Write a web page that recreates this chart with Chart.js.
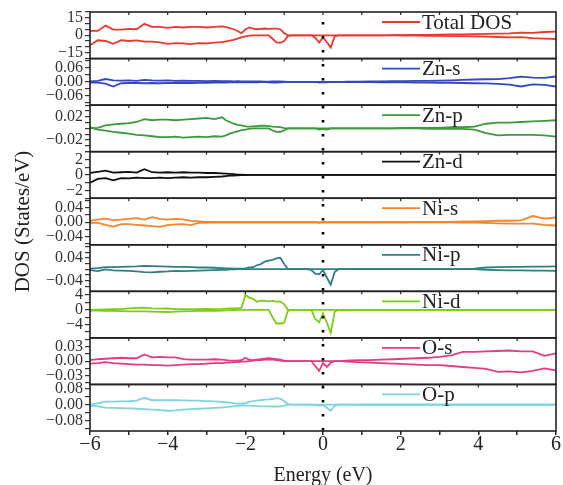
<!DOCTYPE html>
<html>
<head>
<meta charset="utf-8">
<script src="https://cdn.jsdelivr.net/npm/chart.js@4.4.0/dist/chart.umd.min.js"></script>
<style>
  html, body { margin: 0; padding: 0; background: #fff; }
</style>
</head>
<body>
<canvas id="dosChart" width="563" height="485"></canvas>
<script>
(function() {
    "use strict";

// energy grid (eV), finer around the Fermi level
const energy = [
    -6.0, -5.8, -5.6, -5.4, -5.2, -5.0, -4.8, -4.6, -4.4, -4.2, -4.0, -3.8, -3.6, -3.4, -3.2, -3.0, -2.8, -2.6,
    -2.5, -2.4, -2.3, -2.2, -2.1, -2.0, -1.9, -1.8, -1.7, -1.6, -1.5, -1.4, -1.3, -1.2, -1.1, -1.0, -0.9, -0.8,
    -0.7, -0.6, -0.5, -0.4, -0.3, -0.2, -0.1, 0.0, 0.1, 0.2, 0.3, 0.4, 0.5,
    0.6, 0.9, 1.2, 1.5, 1.8, 2.1, 2.4, 2.7, 3.0, 3.3, 3.6, 3.9, 4.2, 4.5, 4.8, 5.1, 5.4, 5.7, 6.0
];

const totalUp = [
    3.7, 3.7, 8.3, 4.9, 4.9, 5.5, 5.2, 9.8, 7.3, 7.3, 6.4, 7.3, 6.7, 7.3, 7.3, 6.7, 7.3, 7.6,
    7.0, 6.1, 5.2, 3.7, 1.8, 4.9, 6.7, 5.8, 5.2, 5.5, 5.8, 5.5, 5.8, 5.8, 5.2, 1.8, 0, 0,
    0, 0, 0, 0, 0, 0, 0, 0, 0, 0, 0, 0, 0,
    0, 0, 0, 0, 0.1, 0.2, 0.3, 0.4, 0.5, 0.7, 0.8, 1.0, 1.2, 1.4, 1.6, 2.2, 2.0, 2.8, 3.2
];
const totalDown = [
    -8.6, -4.3, -4.9, -7.3, -4.3, -4.9, -4.3, -5.5, -5.5, -6.1, -7.3, -6.7, -7.0, -7.6, -6.7, -7.0, -6.4, -5.8,
    -5.2, -4.6, -4.0, -2.8, -1.8, -0.9, -0.3, 0, 0, 0, 0, 0, -3.0, -6.2, -6.4, -5.0, -0.5, 0,
    0, 0, 0, 0, 0, -2.0, -6.2, -1.8, -6.0, -10.5, -1.0, 0, 0,
    0, 0, 0, 0, -0.1, -0.2, -0.3, -0.4, -0.5, -0.7, -0.8, -1.0, -1.2, -1.5, -1.8, -1.6, -2.5, -2.8, -3.2
];

const znSUp = [
    0.002, 0.004, 0.012, 0.006, 0.005, 0.006, 0.004, 0.008, 0.006, 0.005, 0.006, 0.004, 0.005, 0.004, 0.004, 0.003, 0.004, 0.003,
    0.003, 0.003, 0.002, 0.003, 0.002, 0.002, 0.002, 0.002, 0.002, 0.002, 0.001, 0.001, 0.002, 0.002, 0.002, 0.001, 0, 0,
    0, 0, 0, 0, 0, 0, 0, 0, 0, 0, 0, 0, 0,
    0.001, 0.001, 0.002, 0.002, 0.003, 0.003, 0.004, 0.004, 0.005, 0.006, 0.008, 0.010, 0.011, 0.012, 0.016, 0.022, 0.018, 0.017, 0.023
];
const znSDown = [
    -0.003, -0.003, -0.008, -0.020, -0.006, -0.005, -0.005, -0.006, -0.005, -0.006, -0.005, -0.005, -0.004, -0.005, -0.004, -0.004, -0.003, -0.003,
    -0.003, -0.002, -0.002, -0.002, -0.002, -0.002, -0.002, -0.002, -0.002, -0.001, -0.001, -0.002, -0.003, -0.003, -0.002, -0.001, 0, 0,
    0, 0, 0, 0, 0, 0, -0.003, -0.001, -0.002, 0, 0, 0, 0,
    -0.001, -0.001, -0.001, -0.002, -0.002, -0.002, -0.003, -0.003, -0.004, -0.004, -0.005, -0.006, -0.007, -0.009, -0.012, -0.020, -0.011, -0.013, -0.020
];

const znPUp = [
    0, 0.001, 0.005, 0.007, 0.008, 0.009, 0.011, 0.016, 0.014, 0.015, 0.015, 0.014, 0.015, 0.016, 0.017, 0.018, 0.016, 0.019,
    0.014, 0.011, 0.008, 0.006, 0.005, 0.0035, 0.003, 0.0035, 0.004, 0.0045, 0.0045, 0.004, 0.003, 0.0025, 0.002, 0.0005, 0, 0,
    0, 0, 0, 0, 0, 0, 0, 0, 0, 0, 0, 0, 0,
    0, 0, 0, 0, 0, 0.001, 0.001, 0.001, 0.001, 0.002, 0.002, 0.003, 0.008, 0.010, 0.010, 0.011, 0.012, 0.013, 0.014
];
const znPDown = [
    0.002, -0.002, -0.004, -0.006, -0.0075, -0.009, -0.011, -0.012, -0.0135, -0.015, -0.015, -0.014, -0.016, -0.015, -0.014, -0.015, -0.0135, -0.014,
    -0.012, -0.009, -0.007, -0.005, -0.003, -0.002, -0.001, 0, 0, 0, 0, 0, -0.0035, -0.006, -0.006, -0.0035, 0, 0,
    0, 0, 0, 0, 0, 0, -0.002, -0.001, -0.002, 0, 0, 0, 0,
    0, 0, 0, 0, 0, 0, 0, -0.001, -0.001, -0.001, -0.001, -0.002, -0.008, -0.012, -0.011, -0.011, -0.011, -0.012, -0.014
];

const znDUp = [
    0.27, 0.4, 0.55, 0.3, 0.35, 0.4, 0.3, 0.75, 0.35, 0.3, 0.35, 0.3, 0.35, 0.3, 0.3, 0.25, 0.25, 0.2,
    0.18, 0.15, 0.1, 0.05, 0.03, 0.02, 0.01, 0, 0, 0, 0, 0, 0, 0, 0, 0, 0, 0,
    0, 0, 0, 0, 0, 0, 0, 0, 0, 0, 0, 0, 0,
    0, 0, 0, 0, 0, 0, 0, 0, 0, 0, 0, 0, 0, 0, 0, 0, 0, 0, 0
];
const znDDown = [
    -1.0, -0.5, -0.4, -0.7, -0.4, -0.45, -0.35, -0.4, -0.4, -0.35, -0.4, -0.35, -0.3, -0.35, -0.3, -0.3, -0.25, -0.2,
    -0.15, -0.1, -0.07, -0.04, -0.02, -0.01, 0, 0, 0, 0, 0, 0, 0, 0, 0, 0, 0, 0,
    0, 0, 0, 0, 0, 0, 0, 0, 0, 0, 0, 0, 0,
    0, 0, 0, 0, 0, 0, 0, 0, 0, 0, 0, 0, 0, 0, 0, 0, 0, 0, 0
];

const niSUp = [
    0.004, 0.007, 0.010, 0.006, 0.007, 0.009, 0.011, 0.007, 0.014, 0.009, 0.007, 0.009, 0.008, 0.004, 0.002, 0.001, 0.001, 0,
    0, 0, 0, 0, 0, 0, 0, 0, 0, 0, 0, 0, 0, 0, 0, 0, 0, 0,
    0, 0, 0, 0, 0, 0, 0, 0, 0, 0, 0, 0, 0,
    0, 0, 0, 0, 0, 0, 0.001, 0.001, 0.001, 0.001, 0.002, 0.002, 0.003, 0.004, 0.004, 0.005, 0.017, 0.010, 0.013
];
const niSDown = [
    -0.002, -0.002, -0.007, -0.012, -0.005, -0.005, -0.007, -0.009, -0.011, -0.013, -0.008, -0.006, -0.005, -0.008, -0.002, -0.001, -0.001, 0,
    0, 0, 0, 0, 0, 0, 0, 0, 0, 0, 0, 0, 0, 0, 0, 0, 0, 0,
    0, 0, 0, 0, 0, 0, -0.002, 0, 0, 0, 0, 0, 0,
    0, 0, 0, 0, 0, 0, 0, 0, 0, 0, -0.001, -0.001, -0.002, -0.003, -0.004, -0.004, -0.004, -0.007, -0.009
];

const niPUp = [
    0.002, 0.004, 0.007, 0.007, 0.008, 0.009, 0.010, 0.012, 0.011, 0.010, 0.009, 0.008, 0.008, 0.007, 0.006, 0.006, 0.005, 0.004,
    0.003, 0.003, 0.002, 0.002, 0.002, 0.003, 0.006, 0.007, 0.014, 0.018, 0.027, 0.030, 0.033, 0.038, 0.040, 0.018, 0, 0,
    0, 0, 0, 0, 0, 0, 0, 0, 0, 0, 0, 0, 0,
    0, 0, 0, 0, 0, 0, 0, 0, 0, 0, 0, 0.002, 0.006, 0.007, 0.008, 0.008, 0.009, 0.009, 0.010
];
const niPDown = [
    -0.003, -0.007, -0.001, -0.004, -0.005, -0.006, -0.008, -0.010, -0.011, -0.009, -0.008, -0.006, -0.007, -0.006, -0.005, -0.004, -0.003, -0.002,
    -0.002, -0.001, -0.001, 0, 0, 0, 0, 0, 0, 0, 0, 0, 0, 0, 0, 0, 0, 0,
    0, 0, 0, 0, -0.003, -0.016, -0.018, -0.003, -0.030, -0.055, -0.010, 0, 0,
    0, 0, 0, 0, 0, 0, 0, 0, 0, 0, 0, 0, -0.002, -0.003, -0.004, -0.004, -0.005, -0.005, -0.006
];

const niDUp = [
    0, 0.05, 0.1, 0.15, 0.2, 0.4, 0.5, 0.6, 0.4, 0.3, 0.35, 0.2, 0.15, 0.2, 0.2, 0.25, 0.2, 0.25,
    0.3, 0.35, 0.4, 0.45, 0.5, 4.0, 3.3, 3.0, 2.2, 2.5, 2.4, 2.3, 2.4, 2.2, 2.3, 1.5, 0, 0,
    0, 0, 0, 0, 0, 0, 0, 0, 0, 0, 0, 0, 0,
    0, 0, 0, 0, 0, 0, 0, 0, 0, 0, 0, 0, 0, 0, 0, 0, 0, 0, 0
];
const niDDown = [
    -0.2, -0.2, -0.25, -0.3, -0.35, -0.4, -0.45, -0.4, -0.5, -0.55, -0.6, -0.5, -0.4, -0.35, -0.3, -0.3, -0.25, -0.2,
    -0.15, -0.1, -0.05, 0, 0, 0, 0, 0, 0, 0, 0, 0, -2.0, -3.7, -3.7, -3.5, -0.2, 0,
    0, 0, 0, 0, 0, -2.5, -3.4, -1.0, -3.5, -6.3, -0.5, 0, 0,
    0, 0, 0, 0, 0, 0, 0, 0, 0, 0, 0, 0, 0, 0, 0, 0, 0, 0, 0
];

const oSUp = [
    0.002, 0.004, 0.005, 0.006, 0.007, 0.006, 0.006, 0.014, 0.008, 0.009, 0.008, 0.008, 0.004, 0.003, 0.003, 0.003, 0.004, 0.003,
    0.002, 0.001, 0.001, 0.001, 0.002, 0.007, 0.003, 0.002, 0.003, 0.004, 0.005, 0.006, 0.005, 0.004, 0.003, 0.001, 0, 0,
    0, 0, 0, 0, 0, 0, 0, 0, 0, 0, 0, 0, 0,
    0.001, 0.002, 0.002, 0.003, 0.004, 0.005, 0.006, 0.007, 0.009, 0.012, 0.019, 0.019, 0.020, 0.021, 0.022, 0.020, 0.020, 0.011, 0.016
];
const oSDown = [
    -0.005, -0.004, -0.002, -0.004, -0.005, -0.006, -0.007, -0.007, -0.008, -0.008, -0.009, -0.008, -0.007, -0.006, -0.006, -0.005, -0.004, -0.004,
    -0.003, -0.003, -0.002, -0.002, -0.001, -0.001, 0, 0.001, 0.002, 0.002, 0.003, 0.003, 0.003, 0.002, 0.001, 0, 0, 0,
    0, 0, 0, 0, 0, -0.010, -0.020, -0.004, -0.012, -0.003, 0, 0, 0,
    -0.001, -0.002, -0.003, -0.004, -0.005, -0.006, -0.007, -0.008, -0.008, -0.010, -0.012, -0.014, -0.016, -0.022, -0.021, -0.023, -0.020, -0.015, -0.019
];

const oPUp = [
    0, 0.007, 0.015, 0.015, 0.016, 0.017, 0.020, 0.034, 0.022, 0.022, 0.022, 0.022, 0.021, 0.020, 0.020, 0.018, 0.016, 0.014,
    0.012, 0.010, 0.008, 0.005, 0.005, 0.008, 0.014, 0.018, 0.020, 0.022, 0.025, 0.026, 0.028, 0.032, 0.030, 0.018, 0.003, 0,
    0, 0, 0, 0, 0, 0, 0, 0, 0, 0, 0, 0, 0,
    0, 0.001, 0.001, 0.001, 0.001, 0.001, 0.001, 0.001, 0.001, 0.001, 0.001, 0.001, 0.001, 0.001, 0.001, 0.001, 0.001, 0.001, 0.001
];
const oPDown = [
    -0.005, -0.008, -0.015, -0.016, -0.017, -0.018, -0.020, -0.022, -0.024, -0.027, -0.030, -0.028, -0.024, -0.022, -0.020, -0.018, -0.016, -0.014,
    -0.012, -0.010, -0.008, -0.006, -0.004, -0.004, -0.005, -0.006, -0.007, -0.008, -0.008, -0.008, -0.009, -0.009, -0.008, -0.005, 0, 0,
    0, 0, 0, 0, 0, -0.002, -0.004, -0.002, -0.015, -0.030, -0.005, 0, 0,
    0, -0.001, -0.001, -0.001, -0.001, -0.001, -0.001, -0.001, -0.001, -0.001, -0.001, -0.001, -0.001, -0.001, -0.001, -0.001, -0.001, -0.001, -0.001
];

// panel names (top to bottom) and the labelled y ticks of each panel
const panelNames = ['Total DOS', 'Zn-s', 'Zn-p', 'Zn-d', 'Ni-s', 'Ni-p', 'Ni-d', 'O-s', 'O-p'];
const tickTotal = [15, 0, -15];
const tickZnS = [0.06, 0, -0.06];
const tickZnP = [0.02, -0.02];
const tickZnD = [2, 0, -2];
const tickNiS = [0.04, 0, -0.04];
const tickNiP = [0.04, -0.04];
const tickNiD = [4, 0, -4];
const tickOS = [0.03, 0, -0.03];
const tickOP = [0.08, 0, -0.08];

var serif = "'Liberation Serif', 'Times New Roman', serif";

var panels = [
    { up: totalUp, down: totalDown, ticks: tickTotal, color: '#e8392f', min: -20, max: 20, step: 5, dec: 0 },
    { up: znSUp, down: znSDown, ticks: tickZnS, color: '#3448c0', min: -0.1, max: 0.1, step: 0.03, dec: 2 },
    { up: znPUp, down: znPDown, ticks: tickZnP, color: '#3c9a3c', min: -0.04, max: 0.04, step: 0.01, dec: 2 },
    { up: znDUp, down: znDDown, ticks: tickZnD, color: '#111111', min: -3, max: 3, step: 1, dec: 0 },
    { up: niSUp, down: niSDown, ticks: tickNiS, color: '#f5852f', min: -0.062, max: 0.066, step: 0.02, dec: 2 },
    { up: niPUp, down: niPDown, ticks: tickNiP, color: '#2f7f84', min: -0.078, max: 0.086, step: 0.02, dec: 2 },
    { up: niDUp, down: niDDown, ticks: tickNiD, color: '#7ccd17', min: -7.6, max: 5, step: 2, dec: 0 },
    { up: oSUp, down: oSDown, ticks: tickOS, color: '#e23c85', min: -0.048, max: 0.048, step: 0.015, dec: 2 },
    { up: oPUp, down: oPDown, ticks: tickOP, color: '#7fd5dc', min: -0.13, max: 0.1, step: 0.04, dec: 2 }
];

function minus(s) { return s.replace('-', '\u2212'); }

var datasets = [];
var scales = {
    x: {
        type: 'linear',
        position: 'bottom',
        min: -6,
        max: 6,
        ticks: {
            stepSize: 1,
            autoSkip: false,
            maxRotation: 0,
            padding: -2,
            color: '#222',
            font: { family: serif, size: 20 },
            callback: function(v) { return v % 2 === 0 ? minus(String(v)) : ''; }
        },
        grid: { drawOnChartArea: false, drawTicks: true, tickLength: 4, color: '#222', lineWidth: 1.5 },
        border: { display: false },
        title: {
            display: true,
            text: 'Energy (eV)',
            color: '#222',
            font: { family: serif, size: 20, lineHeight: 1 },
            padding: { top: 0, bottom: -1 }
        },
        afterFit: function(s) { s.height = 54; }
    }
};

panels.forEach(function(p, i) {
    var id = 'y' + i;
    [p.up, p.down].forEach(function(arr) {
        datasets.push({
            label: panelNames[i],
            yAxisID: id,
            data: energy.map(function(e, k) { return { x: e, y: arr[k] }; }),
            borderColor: p.color,
            borderWidth: 1.8,
            pointRadius: 0,
            tension: 0,
            fill: false
        });
    });
    scales[id] = {
        type: 'linear',
        position: 'left',
        stack: 'dos',
        stackWeight: 1,
        weight: 20 - i,
        min: p.min,
        max: p.max,
        ticks: {
            stepSize: p.step,
            includeBounds: false,
            autoSkip: false,
            padding: 2,
            color: '#333',
            font: { family: serif, size: 16 },
            callback: function(v) {
                var hit = p.ticks.some(function(t) { return Math.abs(t - v) < p.step * 1e-3; });
                return hit ? minus((Math.abs(v) < 1e-9 ? 0 : v).toFixed(p.dec)) : '';
            }
        },
        grid: { drawOnChartArea: false, drawTicks: true, tickLength: 5, color: '#333', lineWidth: 1.2 },
        border: { display: false },
        title: {
            display: i === 4,
            text: 'DOS (States/eV)',
            color: '#222',
            font: { family: serif, size: 21 },
            padding: { top: 11, bottom: 0 }
        },
        afterFit: function(s) { s.width = 90; }
    };
});

// frames, inner top ticks, per-panel legend and the dotted Fermi line
var panelDecor = {
    id: 'panelDecor',
    afterDatasetsDraw: function(chart) {
        var ctx = chart.ctx;
        var xs = chart.scales.x;
        var area = chart.chartArea;
        ctx.save();
        panels.forEach(function(p, i) {
            var s = chart.scales['y' + i];
            ctx.strokeStyle = '#222';
            ctx.lineWidth = 1.6;
            ctx.strokeRect(xs.left, s.top, xs.right - xs.left, s.bottom - s.top);
            ctx.lineWidth = 1.2;
            for (var e = -5; e <= 5; e++) {
                var px = xs.getPixelForValue(e);
                ctx.beginPath();
                ctx.moveTo(px, s.top);
                ctx.lineTo(px, s.top + 3);
                ctx.stroke();
            }
            // legend entry
            var ly = s.top + 10;
            ctx.strokeStyle = p.color;
            ctx.lineWidth = 1.8;
            ctx.beginPath();
            ctx.moveTo(xs.right - 174, ly);
            ctx.lineTo(xs.right - 136, ly);
            ctx.stroke();
            ctx.fillStyle = '#222';
            ctx.font = '21px ' + serif;
            ctx.textBaseline = 'middle';
            ctx.textAlign = 'left';
            ctx.fillText(panelNames[i], xs.right - 134, ly + 1);
        });
        var x0 = xs.getPixelForValue(0);
        ctx.strokeStyle = '#000';
        ctx.lineWidth = 2.6;
        ctx.setLineDash([2.6, 11.4]);
        ctx.beginPath();
        ctx.moveTo(x0, area.top + 10);
        ctx.lineTo(x0, area.bottom);
        ctx.stroke();
        ctx.restore();
    }
};

var chart = new Chart(document.getElementById('dosChart'), {
    type: 'line',
    data: { datasets: datasets },
    options: {
        responsive: false,
        animation: false,
        layout: { padding: { top: 12, right: 7, left: 0, bottom: 0 } },
        plugins: { legend: { display: false }, tooltip: { enabled: false } },
        scales: scales
    },
    plugins: [panelDecor]
});

})();
</script>
</body>
</html>
